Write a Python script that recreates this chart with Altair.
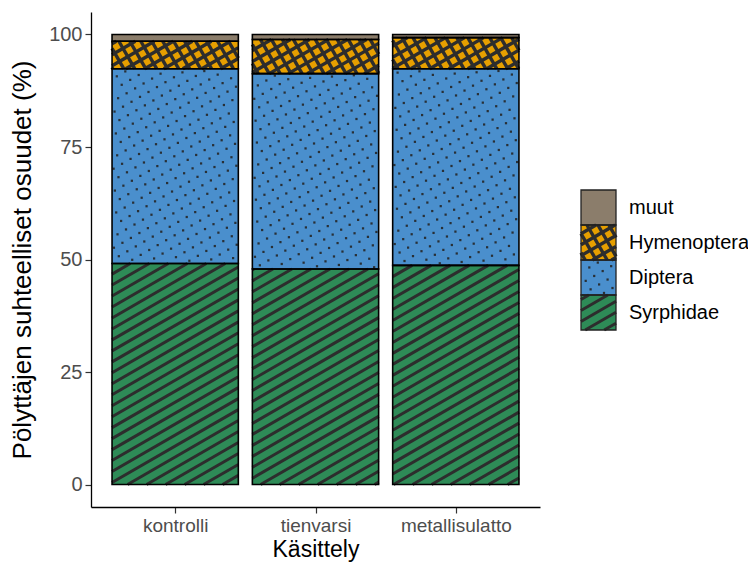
import math
import json
import pandas as pd
import altair as alt

# ---------------- data ----------------
treatments = ["kontrolli", "tienvarsi", "metallisulatto"]
categories = ["Syrphidae", "Diptera", "Hymenoptera", "muut"]   # bottom -> top
syrphidae = [49.1, 47.9, 48.7]
diptera = [43.3, 43.4, 43.7]
hymenoptera = [6.1, 7.6, 6.9]
muut = [1.5, 1.1, 0.7]
y_ticks = [0, 25, 50, 75, 100]

colors = ["#2E8B57", "#4A8FCD", "#E69F00", "#8B7D6B"]

# ---------------- geometry / styles ----------------
W, H = 449, 495
XD = (0.4, 3.6)
YD = (-5.0, 105.0)
BAR_HALF = 0.45
HATCH_COL = "#2d2d2d"
FONT = "Liberation Sans"


def xdat(px):
    return XD[0] + px / W * (XD[1] - XD[0])


def ydat(py):
    return YD[1] - py / H * (YD[1] - YD[0])


def xpx(x):
    return (x - XD[0]) / (XD[1] - XD[0]) * W


def ypx(y):
    return (YD[1] - y) / (YD[1] - YD[0]) * H


def lines_in_rect(x0, x1, y0, y1, angle, spacing, phase=0.0):
    a = math.radians(angle)
    d = (math.cos(a), -math.sin(a))
    n = (math.sin(a), math.cos(a))
    corners = [(x0, y0), (x0, y1), (x1, y0), (x1, y1)]
    proj = [cx * n[0] + cy * n[1] for cx, cy in corners]
    kmin = math.floor((min(proj) - phase) / spacing)
    kmax = math.ceil((max(proj) - phase) / spacing)
    segs = []
    for k in range(kmin, kmax + 1):
        c = k * spacing + phase
        p0 = (c * n[0], c * n[1])
        tmin, tmax = -1e9, 1e9
        ok = True
        for i, (lo, hi) in enumerate([(x0, x1), (y0, y1)]):
            if abs(d[i]) < 1e-12:
                if not (lo <= p0[i] <= hi):
                    ok = False
            else:
                t1 = (lo - p0[i]) / d[i]
                t2 = (hi - p0[i]) / d[i]
                tmin = max(tmin, min(t1, t2))
                tmax = min(tmax, max(t1, t2))
        if ok and tmax - tmin > 1.0:
            segs.append((p0[0] + tmin * d[0], p0[1] + tmin * d[1],
                         p0[0] + tmax * d[0], p0[1] + tmax * d[1]))
    return segs


def dots_in_rect(x0, x1, y0, y1, angle, spacing, inset=1.5):
    a = math.radians(angle)
    u = (math.cos(a), -math.sin(a))
    v = (math.sin(a), math.cos(a))
    corners = [(x0, y0), (x0, y1), (x1, y0), (x1, y1)]
    pu = [cx * u[0] + cy * u[1] for cx, cy in corners]
    pv = [cx * v[0] + cy * v[1] for cx, cy in corners]
    pts = []
    for i in range(math.floor(min(pu) / spacing) - 1, math.ceil(max(pu) / spacing) + 2):
        for j in range(math.floor(min(pv) / spacing) - 1, math.ceil(max(pv) / spacing) + 2):
            px = i * spacing * u[0] + j * spacing * v[0]
            py = i * spacing * u[1] + j * spacing * v[1]
            if x0 + inset <= px <= x1 - inset and y0 + inset <= py <= y1 - inset:
                pts.append((px, py))
    return pts


def pattern_of(cat, x0, x1, y0, y1):
    """returns (stripe segments, crosshatch segments, dots) in pixel space"""
    if cat == "Syrphidae":
        return lines_in_rect(x0, x1, y0, y1, 30, 9.5), [], []
    if cat == "Hymenoptera":
        return [], (lines_in_rect(x0, x1, y0, y1, 30, 9.5)
                    + lines_in_rect(x0, x1, y0, y1, 120, 9.5)), []
    if cat == "Diptera":
        return [], [], dots_in_rect(x0, x1, y0, y1, 30, 9.8)
    return [], [], []


# ---------------- build tables ----------------
series = {"Syrphidae": syrphidae, "Diptera": diptera,
          "Hymenoptera": hymenoptera, "muut": muut}
bar_rows, hatch_rows, dot_rows = [], [], []
for i, t in enumerate(treatments):
    pos = i + 1
    base = 0.0
    for cat in categories:
        val = series[cat][i]
        y0, y1 = base, base + val
        base = y1
        x0, x1 = pos - BAR_HALF, pos + BAR_HALF
        bar_rows.append(dict(treatment=t, cat=cat, x0=x0, x1=x1, y0=y0, y1=y1))
        stripes, cross, dots = pattern_of(cat, xpx(x0), xpx(x1), ypx(y1), ypx(y0))
        for kind, segs in (("stripe", stripes), ("cross", cross)):
            for (a, b, c, d) in segs:
                hatch_rows.append(dict(kind=kind, x=xdat(a), y=ydat(b), x2=xdat(c), y2=ydat(d)))
        for (a, b) in dots:
            dot_rows.append(dict(x=xdat(a), y=ydat(b)))

bars_df = pd.DataFrame(bar_rows)
hatch_df = pd.DataFrame(hatch_rows)
dots_df = pd.DataFrame(dot_rows)

# legend (pixel coordinates relative to plot origin)
LEG_X0, LEG_TOP, KEY = 490, 178, 35
leg_rows, leg_hatch, leg_dots = [], [], []
for k, cat in enumerate(reversed(categories)):
    y0 = LEG_TOP + k * KEY
    y1 = y0 + KEY
    leg_rows.append(dict(cat=cat, x0=LEG_X0, x1=LEG_X0 + KEY, y0=y0, y1=y1,
                         tx=LEG_X0 + KEY + 13, ty=(y0 + y1) / 2))
    stripes, cross, dots = pattern_of(cat, LEG_X0, LEG_X0 + KEY, y0, y1)
    for kind, segs in (("stripe", stripes), ("cross", cross)):
        for (a, b, c, d) in segs:
            leg_hatch.append(dict(kind=kind, x=a, y=b, x2=c, y2=d))
    for (a, b) in dots:
        leg_dots.append(dict(x=a, y=b))
leg_df = pd.DataFrame(leg_rows)
leg_hatch_df = pd.DataFrame(leg_hatch)
leg_dots_df = pd.DataFrame(leg_dots)

# ---------------- chart ----------------
xscale = alt.Scale(domain=list(XD), nice=False, zero=False)
yscale = alt.Scale(domain=list(YD), nice=False, zero=False)
label_expr = json.dumps([""] + treatments) + "[round(datum.value)]"

xaxis = alt.Axis(values=[1, 2, 3], labelExpr=label_expr, title="Käsittely",
                 grid=False, labelFlush=False, labelOverlap=False,
                 labelPadding=3, labelFontSize=19, titlePadding=3, titleFontSize=23)
yaxis = alt.Axis(values=y_ticks, title="Pölyttäjen suhteelliset osuudet (%)",
                 grid=False, labelPadding=3, titlePadding=13)

color = alt.Color("cat:N", scale=alt.Scale(domain=categories, range=colors), legend=None)
stroke_w = alt.StrokeWidth("kind:N", scale=alt.Scale(domain=["stripe", "cross"], range=[3.0, 3.4]),
                           legend=None)

bars = alt.Chart(bars_df).mark_rect(strokeWidth=0).encode(
    x=alt.X("x0:Q", scale=xscale, axis=xaxis), x2="x1:Q",
    y=alt.Y("y0:Q", scale=yscale, axis=yaxis), y2="y1:Q",
    color=color,
)
hatch = alt.Chart(hatch_df).mark_rule(color=HATCH_COL, strokeCap="butt").encode(
    x=alt.X("x:Q", scale=xscale, axis=xaxis), x2="x2:Q",
    y=alt.Y("y:Q", scale=yscale, axis=yaxis), y2="y2:Q",
    strokeWidth=stroke_w,
)
dots = alt.Chart(dots_df).mark_square(size=5, color="#262626", opacity=0.9).encode(
    x=alt.X("x:Q", scale=xscale, axis=xaxis),
    y=alt.Y("y:Q", scale=yscale, axis=yaxis),
)
outline = alt.Chart(bars_df).mark_rect(fillOpacity=0, stroke="black", strokeWidth=1.6).encode(
    x=alt.X("x0:Q", scale=xscale, axis=xaxis), x2="x1:Q",
    y=alt.Y("y0:Q", scale=yscale, axis=yaxis), y2="y1:Q",
)
main = alt.layer(bars, hatch, dots, outline)

lx = alt.Scale(domain=[0, W], nice=False, zero=False)
ly = alt.Scale(domain=[0, H], nice=False, zero=False, reverse=True)

leg_keys = alt.Chart(leg_df).mark_rect(strokeWidth=0, clip=False).encode(
    x=alt.X("x0:Q", scale=lx, axis=None), x2="x1:Q",
    y=alt.Y("y0:Q", scale=ly, axis=None), y2="y1:Q",
    color=color,
)
leg_h = alt.Chart(leg_hatch_df).mark_rule(color=HATCH_COL, strokeCap="butt", clip=False).encode(
    x=alt.X("x:Q", scale=lx, axis=None), x2="x2:Q",
    y=alt.Y("y:Q", scale=ly, axis=None), y2="y2:Q",
    strokeWidth=stroke_w,
)
leg_d = alt.Chart(leg_dots_df).mark_square(size=5, color="#262626", opacity=0.9, clip=False).encode(
    x=alt.X("x:Q", scale=lx, axis=None),
    y=alt.Y("y:Q", scale=ly, axis=None),
)
leg_out = alt.Chart(leg_df).mark_rect(fillOpacity=0, stroke="#222222", strokeWidth=1.3, clip=False).encode(
    x=alt.X("x0:Q", scale=lx, axis=None), x2="x1:Q",
    y=alt.Y("y0:Q", scale=ly, axis=None), y2="y1:Q",
)
leg_txt = alt.Chart(leg_df).mark_text(align="left", baseline="middle", fontSize=20,
                                      font=FONT, color="black", clip=False).encode(
    x=alt.X("tx:Q", scale=lx, axis=None),
    y=alt.Y("ty:Q", scale=ly, axis=None),
    text="cat:N",
)
legend = alt.layer(leg_keys, leg_h, leg_d, leg_out, leg_txt)

chart = alt.layer(main, legend).resolve_scale(
    x="independent", y="independent", strokeWidth="shared"
).properties(
    width=W, height=H,
    padding={"left": 83, "top": 4, "right": 208, "bottom": 56},
    autosize=alt.AutoSizeParams(type="none"),
    background="white",
).configure_view(stroke=None).configure_axis(
    labelFont=FONT, titleFont=FONT, labelFontSize=20, titleFontSize=26,
    labelColor="#4D4D4D", titleColor="black", titleFontWeight="normal",
    domainColor="black", domainWidth=1.3, tickColor="#333333", tickWidth=1.2, tickSize=6,
)

chart.save("out.html", embed_options={"renderer": "svg", "actions": False})
